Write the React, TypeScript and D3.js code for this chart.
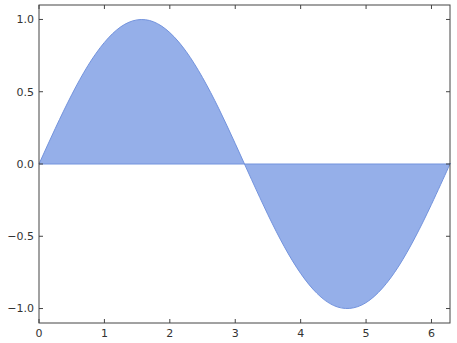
import React, { useEffect, useRef } from 'react';
import * as d3 from 'd3';

const xValues = [0, 0.25, 0.5, 0.75, 1, 1.25, 1.5, 1.75, 2, 2.25, 2.5, 2.75, 3, 3.25, 3.5, 3.75, 4, 4.25, 4.5, 4.75, 5, 5.25, 5.5, 5.75, 6, 6.25, 6.283];
const yValues = [0, 0.247, 0.479, 0.682, 0.841, 0.949, 0.997, 0.984, 0.909, 0.778, 0.598, 0.382, 0.141, -0.108, -0.351, -0.572, -0.757, -0.895, -0.978, -0.999, -0.959, -0.859, -0.706, -0.508, -0.279, -0.033, 0];
const xTicks = [0, 1, 2, 3, 4, 5, 6];
const yTicks = [-1.0, -0.5, 0.0, 0.5, 1.0];

const App: React.FC = () => {
  const svgRef = useRef<SVGSVGElement>(null);

  useEffect(() => {
    document.body.style.margin = '0';
    if (!svgRef.current) return;
    const svg = d3.select(svgRef.current);
    svg.selectAll('*').remove();

    const width = 457;
    const height = 343;
    const margin = { top: 5, right: 7, bottom: 20, left: 39 };
    const iw = width - margin.left - margin.right;
    const ih = height - margin.top - margin.bottom;

    svg.attr('width', width).attr('height', height);

    const x = d3.scaleLinear().domain([0, 2 * Math.PI]).range([0, iw]);
    const y = d3.scaleLinear().domain([-1.1, 1.1]).range([ih, 0]);

    const g = svg.append('g').attr('transform', `translate(${margin.left},${margin.top})`);

    const points = xValues.map((v, i) => ({ x: v, y: yValues[i] }));

    const area = d3.area<{ x: number; y: number }>()
      .x(d => x(d.x))
      .y0(y(0))
      .y1(d => y(d.y))
      .curve(d3.curveNatural);

    const line = d3.line<{ x: number; y: number }>()
      .x(d => x(d.x))
      .y(d => y(d.y))
      .curve(d3.curveNatural);

    g.append('path')
      .datum(points)
      .attr('d', area)
      .attr('fill', '#95afe9');

    g.append('path')
      .datum(points)
      .attr('d', line)
      .attr('fill', 'none')
      .attr('stroke', '#7393dd')
      .attr('stroke-width', 1);

    g.append('line')
      .attr('x1', 0)
      .attr('x2', iw)
      .attr('y1', y(0))
      .attr('y2', y(0))
      .attr('stroke', '#7393dd')
      .attr('stroke-width', 1);

    // frame
    g.append('rect')
      .attr('x', 0)
      .attr('y', 0)
      .attr('width', iw)
      .attr('height', ih)
      .attr('fill', 'none')
      .attr('stroke', '#444')
      .attr('stroke-width', 1);

    const tickLen = 4;
    const tickColor = '#444';
    const font = 'DejaVu Sans, sans-serif';

    xTicks.forEach(t => {
      g.append('line').attr('x1', x(t)).attr('x2', x(t)).attr('y1', ih).attr('y2', ih - tickLen).attr('stroke', tickColor);
      g.append('line').attr('x1', x(t)).attr('x2', x(t)).attr('y1', 0).attr('y2', tickLen).attr('stroke', tickColor);
      g.append('text')
        .attr('x', x(t))
        .attr('y', ih + 14)
        .attr('text-anchor', 'middle')
        .style('font-family', font)
        .style('font-size', '11px')
        .style('fill', '#333')
        .text(d3.format('d')(t));
    });

    yTicks.forEach(t => {
      g.append('line').attr('x1', 0).attr('x2', tickLen).attr('y1', y(t)).attr('y2', y(t)).attr('stroke', tickColor);
      g.append('line').attr('x1', iw).attr('x2', iw - tickLen).attr('y1', y(t)).attr('y2', y(t)).attr('stroke', tickColor);
      g.append('text')
        .attr('x', -5)
        .attr('y', y(t))
        .attr('dy', '0.35em')
        .attr('text-anchor', 'end')
        .style('font-family', font)
        .style('font-size', '11px')
        .style('fill', '#333')
        .text(d3.format('.1f')(t).replace('-', '\u2212'));
    });
  }, []);

  return <svg ref={svgRef} style={{ display: 'block' }} />;
};

export default App;
